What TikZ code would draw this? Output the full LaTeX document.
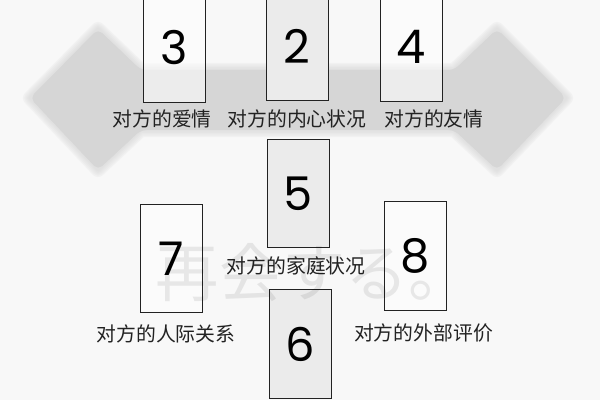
\documentclass[tikz,border=0pt]{standalone}
\usepackage{fontspec}
\setmainfont{Noto Sans CJK SC}
\newfontfamily\digitfont{Poppins}
\newfontfamily\jpfont{Noto Sans CJK JP}
\usetikzlibrary{positioning}
\definecolor{paper}{HTML}{F8F8F8}
\definecolor{bandgray}{HTML}{D6D6D6}
\definecolor{cardgray}{HTML}{EBEBEB}
\definecolor{inkgray}{HTML}{222222}
\begin{document}
\begin{tikzpicture}[
  x=0.025cm, y=-0.025cm,
  card/.style={rectangle, draw=inkgray, line width=0.7pt, minimum width=1.55cm, minimum height=2.7cm, inner sep=0pt, text=black, font=\digitfont\fontsize{33}{33}\selectfont},
  sidecard/.style={card, fill=white, fill opacity=0.55, text opacity=1},
  midcard/.style={card, fill=cardgray},
  caption/.style={inner sep=0pt, text=inkgray, font=\fontsize{14.1}{14.1}\selectfont}
]
% Paper
\fill[paper] (0,0) rectangle (600,400);
\useasboundingbox (0,0) rectangle (600,400);

% Grey double arrow behind the spread, with soft edges
\foreach \w in {10,8,6,4,2}
  \draw[bandgray, line width=\w pt, opacity=0.18, line join=round]
    (30,98) -- (98,29) -- (141,70) -- (454,70) -- (497,29) -- (566,98) -- (497,170) -- (454,130) -- (141,130) -- (98,170) -- cycle;
\fill[bandgray, rounded corners=4pt]
  (30,98) -- (98,29) -- (141,70) -- (454,70) -- (497,29) -- (566,98) -- (497,170) -- (454,130) -- (141,130) -- (98,170) -- cycle;

% Cards
\node[midcard] (c2) at (297,46) {2};
\node[sidecard] (c3) at (174.5,48) {3};
\node[sidecard] (c4) at (411,47) {4};
\node[midcard] (c5) at (298.5,193.5) {5};
\node[midcard] (c6) at (300.5,344) {6};
\node[sidecard] (c7) at (171,258.5) {7};
\node[sidecard] (c8) at (415.5,256) {8};

% Captions
\node[caption, below=0.175cm of c3, xshift=-0.31cm] (l3) {对方的爱情};
\node[caption, below=0.225cm of c2] (l2) {对方的内心状况};
\node[caption, below=0.2cm of c4, xshift=0.575cm] (l4) {对方的友情};
\node[caption, below=0.2cm of c5, xshift=-0.06cm] (l5) {对方的家庭状况};
\node[caption, below=0.275cm of c7, xshift=-0.125cm] (l7) {对方的人际关系};
\node[caption, below=0.32cm of c8, xshift=0.2cm] (l8) {对方的外部评价};

% Watermark
\node[text=black, opacity=0.08, font=\jpfont\fontsize{45}{45}\selectfont] (mark) at (314,273) {再会する。};
\end{tikzpicture}
\end{document}
